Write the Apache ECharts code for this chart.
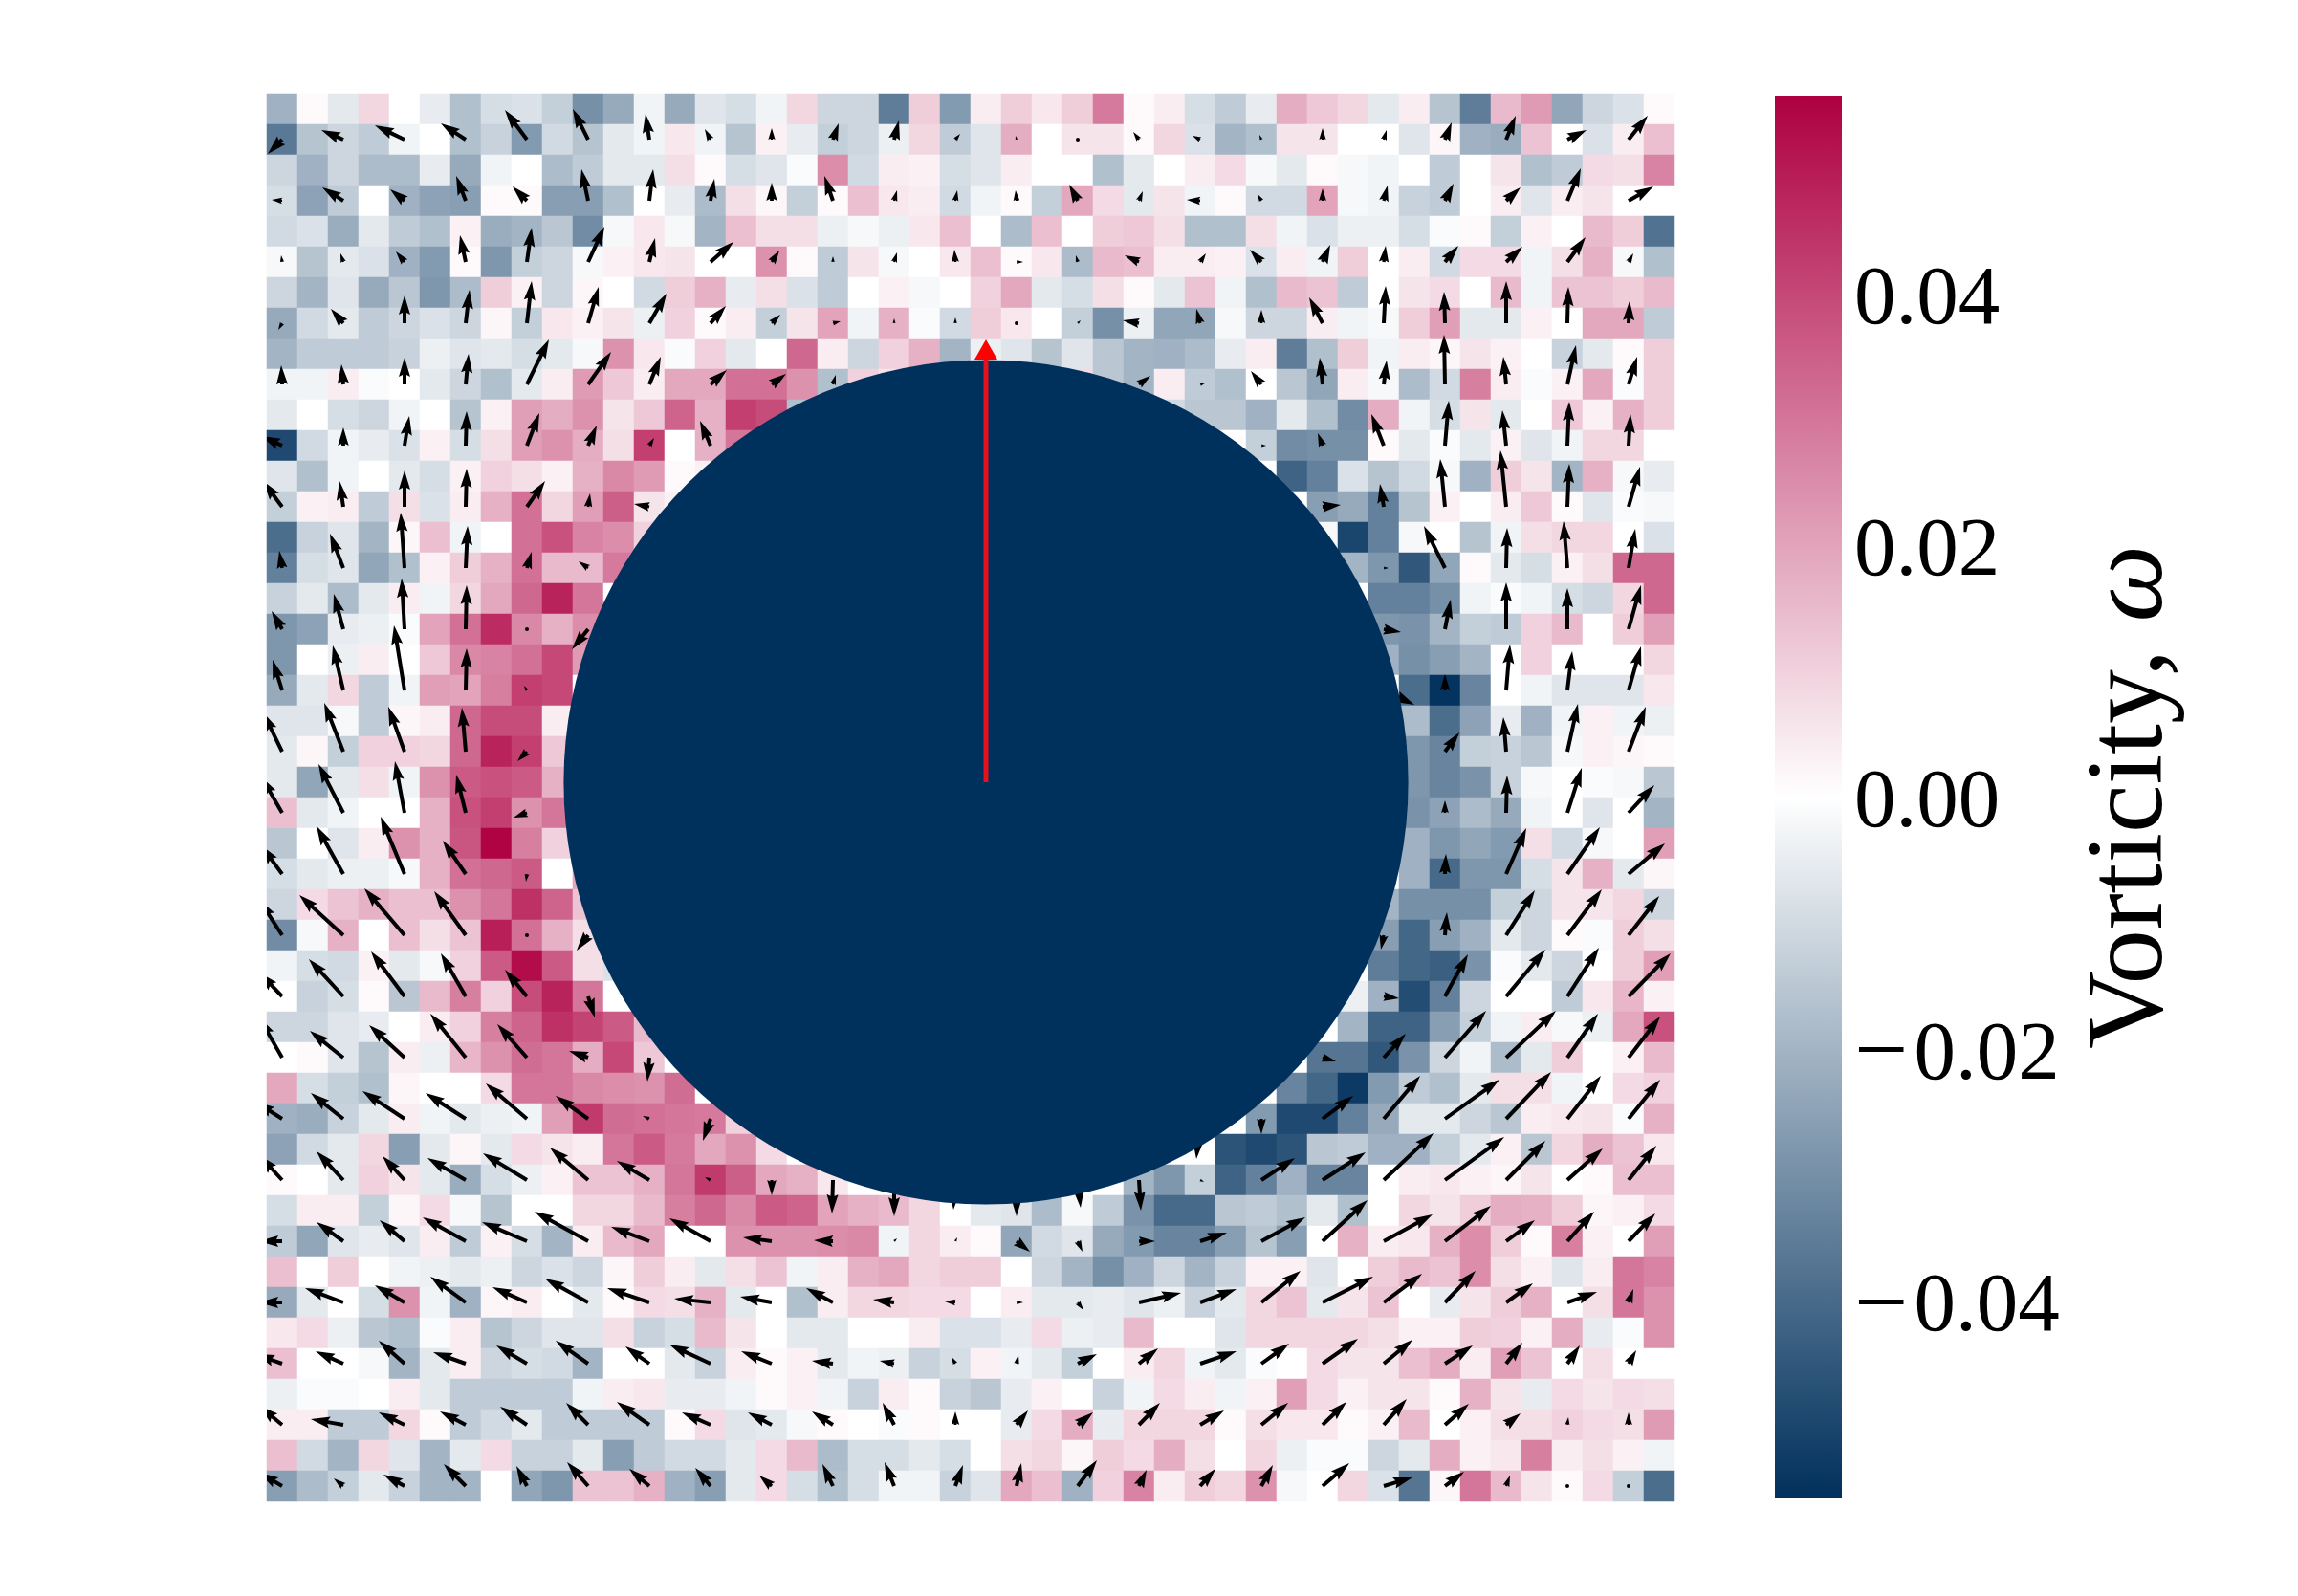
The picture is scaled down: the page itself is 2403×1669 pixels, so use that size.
<!DOCTYPE html>
<html><head><meta charset="utf-8">
<script src="https://cdn.jsdelivr.net/npm/echarts@6/dist/echarts.min.js"></script>
<style>html,body{margin:0;padding:0;background:#fff}#c{width:2403px;height:1669px}</style>
</head><body><div id="c"></div>
<script>
// Vorticity per cell, in units of 0.001, row 0 = top
const w00=[-21,1,-6,9,0,-5,-17,-9,-8,-13,-30,-23,-3,-23,-7,-9,-3,9,-11,-11,-35,11,-27,4,11,5,11,29,1,4,-9,-14,-5,18,12,9,-6,4,-16,-35,15,22,-24,-11,-8,1];
const w01=[-36,-16,-11,-14,-3,0,-17,-12,-27,-10,-16,-6,-3,5,-3,-16,3,-5,-13,-11,-4,9,-14,-7,18,0,6,6,1,9,-8,-20,-17,6,6,0,0,-7,2,-21,-22,13,0,-8,4,14];
const w02=[-11,-21,-11,-18,-18,-5,-23,-3,0,-18,-14,-6,-6,7,1,-9,-7,-1,25,-10,4,3,-9,-7,4,0,0,-17,-6,0,4,8,-2,-6,1,-2,-3,0,-14,0,6,-17,-14,8,7,27];
const w03=[-9,-25,-14,0,-21,-25,-26,1,1,-26,-26,-17,0,-5,-18,7,2,-13,1,14,5,4,-10,-3,1,-13,19,8,-6,6,-3,1,-10,-10,20,-2,-3,-12,-14,0,4,-7,4,6,0,0];
const w04=[-10,-8,-22,-6,-14,-17,3,-22,-20,-15,-31,-2,5,-2,-20,14,7,7,-4,-2,-4,5,14,0,-18,14,0,11,12,7,-17,-17,7,-3,-8,-4,-4,-9,-1,1,-13,3,0,15,11,-38];
const w05=[-2,-16,-6,-8,-21,-27,1,-28,-13,-11,-2,3,5,6,0,0,24,1,-14,6,-2,0,5,14,1,5,-18,15,14,4,4,3,-8,4,-3,11,0,4,-10,8,8,-3,7,17,-2,-17];
const w06=[-11,-20,-7,-23,-15,-28,-18,11,3,-11,2,0,-10,11,17,-5,7,-8,-14,0,3,-2,0,10,19,-6,-9,7,1,-6,13,-3,-17,15,13,-14,0,6,8,0,15,-3,13,13,11,15];
const w07=[-23,-10,-6,-14,-11,-8,-11,2,-13,5,3,6,-4,10,1,4,-13,6,20,-3,17,-1,-10,11,5,0,-13,-30,-4,-24,-24,-2,-11,-11,4,-3,-2,11,21,-6,-6,3,0,19,19,-14];
const w08=[-20,-14,-14,-14,-12,-4,-7,-6,-9,-6,-2,24,5,-1,10,-6,0,33,4,-11,10,17,-20,-4,-7,-16,-7,-15,-20,-21,-18,-5,4,-35,-17,11,-3,4,2,6,3,0,-12,-6,1,11];
const w09=[-3,-3,4,-1,0,-6,-11,-17,-6,4,22,12,4,19,19,31,31,24,-17,10,6,6,6,0,0,0,8,-15,-20,4,-14,-17,0,-15,-24,4,-2,-18,-10,28,4,-1,3,19,-1,11];
const w10=[-6,0,-9,-11,-3,0,-16,3,21,18,24,6,12,34,17,42,39,-17,0,0,0,0,0,0,0,0,0,0,0,-10,-15,-15,-21,-6,-17,-31,18,-3,-9,6,-6,0,12,3,17,11];
const w11=[-49,-10,-3,-5,-8,3,-9,7,21,24,18,7,42,0,17,30,0,0,0,0,0,0,0,0,0,0,0,0,0,0,0,0,-13,-31,-30,-30,1,-6,-1,-6,3,-7,-3,9,9,0];
const w12=[-7,-17,-3,0,-6,-9,3,10,7,3,17,26,22,1,3,0,0,0,0,0,0,0,0,0,0,0,0,0,0,0,0,0,0,-42,-34,-8,-16,-10,-2,-21,11,6,-20,17,-2,-5];
const w13=[-13,3,4,-14,7,-8,4,17,31,9,21,35,6,3,0,0,0,0,0,0,0,0,0,0,0,0,0,0,0,0,0,0,0,0,-26,-23,-34,-16,3,0,4,12,1,-7,-1,-2];
const w14=[-39,-12,-7,-20,2,14,-3,0,31,38,27,25,10,0,0,0,0,0,0,0,0,0,0,0,0,0,0,0,0,0,0,0,0,0,-2,-50,-34,-2,0,-16,-3,7,9,9,0,-8];
const w15=[-34,-9,-7,-24,-17,3,11,17,31,15,15,29,0,0,0,0,0,0,0,0,0,0,0,0,0,0,0,0,0,0,0,0,0,0,0,-20,-28,-45,-24,1,-6,-9,3,7,33,33];
const w16=[-12,-6,-18,-6,4,-3,9,19,33,48,30,0,0,0,0,0,0,0,0,0,0,0,0,0,0,0,0,0,0,0,0,0,0,0,0,0,-34,-34,-30,-3,-1,-3,-9,-11,9,33];
const w17=[-28,-25,-5,-4,-1,20,31,46,26,17,25,0,0,0,0,0,0,0,0,0,0,0,0,0,0,0,0,0,0,0,0,0,0,0,0,0,-28,-29,-20,-13,-14,10,15,0,11,21];
const w18=[-28,0,-4,4,0,12,26,27,31,40,22,0,0,0,0,0,0,0,0,0,0,0,0,0,0,0,0,0,0,0,0,0,0,0,0,0,-21,-30,-26,-20,0,10,0,0,0,9];
const w19=[-23,-6,9,-14,-3,21,20,28,42,40,0,0,0,0,0,0,0,0,0,0,0,0,0,0,0,0,0,0,0,0,0,0,0,0,0,0,0,-39,-55,-33,0,-3,-7,-7,-7,5];
const w20=[-7,-7,-2,-14,2,4,33,39,39,4,0,0,0,0,0,0,0,0,0,0,0,0,0,0,0,0,0,0,0,0,0,0,0,0,0,0,0,-18,-39,-25,-5,-21,-3,3,-3,-4];
const w21=[-6,2,-13,10,10,9,33,48,42,12,0,0,0,0,0,0,0,0,0,0,0,0,0,0,0,0,0,0,0,0,0,0,0,0,0,0,0,-28,-33,-13,-12,-15,-2,3,2,1];
const w22=[-6,-24,-6,7,-3,24,36,38,36,17,0,0,0,0,0,0,0,0,0,0,0,0,0,0,0,0,0,0,0,0,0,0,0,0,0,0,0,-28,-33,-29,-12,-2,0,-1,-2,-15];
const w23=[14,-6,-3,0,0,17,38,42,24,30,0,0,0,0,0,0,0,0,0,0,0,0,0,0,0,0,0,0,0,0,0,0,0,0,0,0,0,-29,-25,-18,-23,-3,0,-7,0,-20];
const w24=[-15,0,-7,4,24,17,37,55,28,10,0,0,0,0,0,0,0,0,0,0,0,0,0,0,0,0,0,0,0,0,0,0,0,0,0,0,0,-21,-28,-24,-27,7,-10,-2,0,21];
const w25=[-9,-6,-4,-4,-2,17,31,33,36,0,20,0,0,0,0,0,0,0,0,0,0,0,0,0,0,0,0,0,0,0,0,0,0,0,0,0,0,-21,-40,-28,-28,-9,6,17,-6,2];
const w26=[-11,8,13,17,14,14,24,30,45,34,13,0,0,0,0,0,0,0,0,0,0,0,0,0,0,0,0,0,0,0,0,0,0,0,0,0,-20,-30,-30,-30,-13,-11,6,6,9,-11];
const w27=[-31,-2,17,0,14,7,13,49,31,17,7,0,0,0,0,0,0,0,0,0,0,0,0,0,0,0,0,0,0,0,0,0,0,0,0,0,-26,-41,-26,-21,-6,-11,1,-1,11,7];
const w28=[-3,-9,-10,3,-6,-2,10,36,53,36,7,-8,0,0,0,0,0,0,0,0,0,0,0,0,0,0,0,0,0,0,0,0,0,0,0,0,-35,-41,-43,-29,-1,-6,-11,0,11,21];
const w29=[0,-12,-9,1,-15,15,28,10,39,48,30,0,0,0,0,0,0,0,0,0,0,0,0,0,0,0,0,0,0,0,0,0,0,0,0,-4,-21,-48,-34,-11,0,0,-14,5,16,3];
const w30=[-11,-11,-7,-5,0,4,10,28,34,45,41,36,15,0,0,0,0,0,0,0,0,0,0,0,0,0,0,0,0,0,0,0,0,0,0,-20,-42,-42,-26,-13,-3,4,-2,-4,19,38];
const w31=[0,1,-7,-16,4,-4,16,24,32,30,18,40,12,0,0,0,0,0,0,0,0,0,0,0,0,0,0,0,0,0,0,0,0,0,-37,-37,-45,-29,-11,-3,-18,-6,11,0,3,15];
const w32=[19,-9,-13,-17,2,0,0,8,30,30,26,25,24,32,0,0,0,0,0,0,0,0,0,0,0,0,0,0,0,0,0,0,0,-33,-41,-53,-27,-14,-17,-6,7,7,-3,0,8,10];
const w33=[-21,-22,-12,-6,4,-3,-6,-4,-3,21,43,32,31,30,29,10,0,0,0,0,0,0,0,0,0,0,0,0,0,0,0,0,-27,-49,-49,-34,-23,-6,-6,-11,-15,4,5,6,-1,17];
const w34=[-25,-10,-6,9,-26,-6,2,-6,8,6,4,30,36,29,19,24,8,0,0,0,0,0,0,0,0,0,0,0,0,0,0,-46,-49,-46,-15,-14,-21,-21,-13,-6,3,-15,9,18,13,5];
const w35=[1,0,-6,10,6,-6,-22,-9,-4,3,13,13,17,30,43,35,19,17,5,0,0,0,0,0,0,0,0,0,-20,-28,-13,-42,-34,-21,-33,-33,0,4,5,3,2,6,0,1,14,14];
const w36=[-9,4,4,-13,2,8,-2,-16,0,0,9,9,15,28,33,26,36,34,20,17,15,9,0,-6,-7,-18,-2,-14,-29,-40,-40,-15,-14,-17,-6,-17,0,9,6,11,18,17,11,2,3,8];
const w37=[-14,-24,-7,-5,-7,4,-14,3,-9,-20,4,15,19,0,0,24,24,24,25,26,-3,9,4,1,-24,-10,-7,-23,-27,-33,-33,-26,-16,-26,0,17,4,5,17,25,11,1,28,3,0,21];
const w38=[14,0,11,0,-3,-4,-6,-4,-11,-8,-11,2,11,4,-6,7,13,-3,4,17,19,9,11,11,0,-11,-20,-30,-21,-11,-20,-12,3,3,-7,0,11,15,13,25,7,3,-7,4,30,27];
const w39=[-23,-6,0,-9,24,-3,-21,2,4,0,-6,1,8,7,17,-6,0,-17,4,9,9,8,8,0,4,-6,-6,-5,-7,-4,-12,-6,9,13,-6,6,13,0,-5,6,11,17,0,7,30,24];
const w40=[5,8,-4,-15,-17,-1,4,-16,-11,-7,-7,7,-12,-9,15,6,0,-6,-6,0,0,4,-8,-8,-5,8,-4,-5,15,0,0,-7,9,9,9,9,7,3,3,11,10,3,18,-5,-1,24];
const w41=[14,0,0,-2,-20,-6,4,-11,-9,-10,-20,0,0,-6,-12,4,1,3,-6,-3,-4,-12,-9,3,-3,-6,-13,0,4,9,-3,-6,-1,0,8,6,6,14,18,4,21,13,0,7,0,0];
const w42=[-4,-1,-1,0,4,-6,-14,-14,-14,-14,-3,4,5,-5,-5,-3,1,3,-3,-12,4,1,-12,-15,-5,3,0,-12,-3,8,4,-3,3,21,8,3,6,6,1,17,6,-5,8,6,8,7];
const w43=[4,4,-14,-14,9,1,-14,-10,-6,-14,-14,-14,-14,1,8,-7,-6,-2,1,0,-1,1,0,0,-5,8,18,-5,9,9,9,1,7,5,5,1,3,15,0,3,7,7,10,8,7,22];
const w44=[14,-10,-20,9,-7,-20,-6,8,-12,-12,-6,-26,-14,-10,-10,-6,8,15,-18,-9,-9,-6,-9,0,7,9,2,11,8,18,7,0,9,-4,-1,-1,-11,-6,18,3,5,28,4,7,3,-3];
const w45=[-26,-18,-13,-6,-12,-20,-20,0,-24,-28,13,13,17,-21,-26,-6,8,-9,-17,-9,-3,-3,-12,-7,19,14,-21,10,27,4,11,9,24,-2,0,9,-8,-37,2,30,15,6,1,8,-13,-39];
const vorticityRows=[w00,w01,w02,w03,w04,w05,w06,w07,w08,w09,w10,w11,w12,w13,w14,w15,w16,w17,w18,w19,w20,w21,w22,w23,w24,w25,w26,w27,w28,w29,w30,w31,w32,w33,w34,w35,w36,w37,w38,w39,w40,w41,w42,w43,w44,w45];

// Velocity samples, one every second cell (columns 0,2,…44), rows 1,3,…45; unit = 1/32 cell
const u01=[-15,-23,-31,-26,-23,-16,-4,-6,0,6,5,5,-1,-2,-6,-8,-2,0,3,7,10,20,20];
const v01=[15,-10,-15,-17,-31,-32,-27,-11,-12,-17,-20,-6,-4,-3,-8,-4,-5,-12,-10,-18,-25,-10,-25];
const u03=[-11,-22,-15,-10,-15,-7,4,4,0,-9,3,2,-1,-9,4,-14,-4,0,4,9,15,14,26];
const v03=[-1,-14,-12,-26,-15,-33,-33,-23,-19,-26,-11,-11,-11,-17,-10,-1,-7,-13,-16,-18,-14,-34,-15];
const u05=[-1,-3,-9,-6,5,17,6,24,8,0,3,-1,7,-2,-15,6,-12,8,2,14,17,19,5];
const v05=[-7,-9,-11,-28,-36,-37,-25,-21,-12,-6,-10,-13,0,-7,-7,-9,-13,-18,-17,-17,-16,-26,-9];
const u07=[-4,-13,0,4,5,11,18,16,9,8,0,0,0,3,-17,-4,0,-14,2,-1,0,1,1];
const v07=[7,-15,-29,-35,-44,-38,-31,-18,-9,-2,-5,-6,0,-3,-3,-15,-14,-27,-39,-33,-44,-38,-23];
const u09=[-1,-2,0,3,23,24,12,17,15,3,0,0,0,0,12,6,-11,-3,3,-1,-3,9,9];
const v09=[-20,-21,-28,-32,-47,-34,-29,-15,-11,-10,0,0,0,0,-9,-2,-14,-28,-25,-52,-29,-41,-29];
const u11=[-22,0,5,1,13,9,5,-11,0,0,0,0,0,0,0,0,5,-5,-13,4,-4,2,2];
const v11=[-10,-19,-31,-36,-34,-21,-8,-26,0,0,0,0,0,0,0,0,0,-13,-33,-47,-37,-46,-33];
const u13=[-20,-4,0,1,19,2,-16,0,0,0,0,0,0,0,0,0,0,19,-4,-5,-6,2,12];
const v13=[-27,-27,-38,-40,-27,-14,-3,0,0,0,0,0,0,0,0,0,0,-2,-24,-50,-59,-45,-42];
const u15=[-3,-14,-4,2,5,-10,0,0,0,0,0,0,0,0,0,0,0,0,5,-22,1,-4,7];
const v15=[-18,-36,-58,-44,-17,-7,0,0,0,0,0,0,0,0,0,0,0,0,0,-44,-42,-49,-41];
const u17=[-11,-10,-3,1,-2,-17,0,0,0,0,0,0,0,0,0,0,0,0,18,6,0,0,13];
const v17=[-19,-37,-53,-46,-2,21,0,0,0,0,0,0,0,0,0,0,0,0,3,-31,-49,-43,-46];
const u19=[-10,-11,-11,1,-3,0,0,0,0,0,0,0,0,0,0,0,0,0,32,0,4,5,13];
const v19=[-32,-47,-68,-44,-5,0,0,0,0,0,0,0,0,0,0,0,0,0,15,-17,-48,-41,-46];
const u21=[-20,-20,-17,-4,-10,0,0,0,0,0,0,0,0,0,0,0,0,0,0,15,-3,11,18];
const v21=[-41,-51,-47,-46,10,0,0,0,0,0,0,0,0,0,0,0,0,0,0,-20,-36,-50,-47];
const u23=[-22,-26,-10,-10,-14,0,0,0,0,0,0,0,0,0,0,0,0,0,0,0,1,15,27];
const v23=[-38,-51,-54,-40,5,0,0,0,0,0,0,0,0,0,0,0,0,0,0,-13,-39,-47,-29];
const u25=[-22,-28,-25,-24,-1,0,0,0,0,0,0,0,0,0,0,0,0,0,0,1,21,34,38];
const v25=[-30,-50,-60,-35,8,0,0,0,0,0,0,0,0,0,0,0,0,0,0,-21,-48,-49,-32];
const u27=[-24,-46,-42,-33,0,-12,0,0,0,0,0,0,0,0,0,0,0,0,-3,2,30,36,32];
const v27=[-37,-42,-49,-46,0,16,0,0,0,0,0,0,0,0,0,0,0,0,15,-24,-47,-48,-41];
const u29=[-24,-36,-35,-26,-23,7,0,0,0,0,0,0,0,0,0,0,0,0,16,24,41,33,44];
const v29=[-25,-39,-47,-45,-28,22,0,0,0,0,0,0,0,0,0,0,0,0,2,-44,-49,-51,-45];
const u31=[-24,-35,-37,-37,-31,-20,-2,0,0,0,0,0,0,0,0,0,0,14,23,43,52,32,33];
const v31=[-42,-28,-34,-46,-35,-7,25,0,0,0,0,0,0,0,0,0,0,4,-25,-49,-49,-46,-43];
const u33=[-28,-34,-44,-42,-43,-34,-7,-8,0,0,0,0,0,0,0,-4,0,32,38,57,47,35,33];
const v33=[-18,-27,-29,-27,-37,-24,-3,23,0,0,0,0,0,0,0,42,16,-24,-45,-41,-49,-45,-41];
const u35=[-24,-28,-23,-40,-46,-40,-34,-6,0,-1,0,-2,0,3,2,4,35,45,52,62,41,37,29];
const v35=[-26,-30,-25,-23,-28,-34,-20,-3,16,35,38,31,38,29,32,2,-23,-29,-49,-45,-41,-33,-36];
const u37=[-24,-28,-26,-45,-47,-56,-40,-43,-30,-20,3,2,14,5,17,28,46,47,51,48,30,28,28];
const v37=[0,-20,-22,-25,-20,-31,-15,-24,-4,-1,-3,-4,11,11,0,-9,-25,-43,-28,-37,-22,-31,-29];
const u39=[-24,-40,-31,-37,-36,-45,-44,-38,-33,-28,-22,-11,7,6,44,38,41,53,40,32,28,31,5];
const v39=[0,-15,-18,-27,-16,-25,-15,-4,-6,-15,-3,-1,0,8,-10,-14,-33,-27,-30,-33,-20,-11,-14];
const u41=[-28,-29,-27,-34,-32,-34,-25,-43,-32,-22,-15,-4,2,20,20,38,29,37,30,29,17,13,8];
const v41=[-10,-13,-24,-12,-19,-24,-18,-20,-13,-3,-3,-7,-9,-10,-16,-13,-21,-26,-25,-19,-22,-19,-14];
const u43=[-24,-34,-27,-27,-28,-23,-34,-30,-25,-22,-12,0,12,16,22,25,28,25,24,25,15,1,0];
const v43=[-20,-6,-13,-14,-19,-23,-24,-13,-13,-14,-23,-14,-15,-13,-23,-15,-23,-24,-27,-22,-12,-8,-13];
const u45=[-24,-10,-22,-23,-11,-22,-21,-16,-13,-11,-10,8,5,20,8,16,12,28,30,20,4,0,1];
const v45=[-14,-8,-12,-23,-21,-25,-18,-19,-11,-23,-25,-22,-24,-27,-17,-18,-22,-24,-9,-15,-11,0,-2];
const uRows=[u01,u03,u05,u07,u09,u11,u13,u15,u17,u19,u21,u23,u25,u27,u29,u31,u33,u35,u37,u39,u41,u43,u45];
const vRows=[v01,v03,v05,v07,v09,v11,v13,v15,v17,v19,v21,v23,v25,v27,v29,v31,v33,v35,v37,v39,v41,v43,v45];

const colorTicks=[0.04,0.02,0,-0.02,-0.04];
const tickLabels=['0.04','0.02','0.00','{m|\u2212}0.02','{m|\u2212}0.04'];
const colorLimit=0.0557;
const colorStops=['#ae0041','#ffffff','#00305c'];
const cylinder=[23.5,22.5,13.8];      // centre column, centre row, radius (cells)
const forceVector=[23.5,22.5,0,-14.47]; // tail column, tail row, du, dv (cells)

const N=46;
const cats=Array.from({length:N},(_,i)=>i);
const cells=[];
vorticityRows.forEach((row,r)=>row.forEach((v,c)=>cells.push([c,r,v/1000])));
const arrows=[];
uRows.forEach((row,i)=>row.forEach((u,j)=>{
  const v=vRows[i][j];
  if(u===0&&v===0&&!(i===3&&j===12)&&!(i===22&&j===21)&&!(i===13&&j===4)) return;
  arrows.push([j*2+0.5,i*2+1.5,u/32,v/32]);
}));

const SERIF='"Liberation Serif", "DejaVu Serif", serif';
function arrowPolygon(p0,p1,width){
  const dx=p1[0]-p0[0],dy=p1[1]-p0[1],L=Math.hypot(dx,dy);
  const head=5*width,axis=4.5*width,hw=1.5*width,sw=width/2;
  if(L<width) return {type:'circle',shape:{cx:p0[0],cy:p0[1],r:sw},style:{fill:'#000'}};
  const k=L<head?L/head:1;
  const ux=dx/L,uy=dy/L,nx=-uy,ny=ux;
  const pts=[[0,sw*k],[L-axis*k,sw*k],[L-head*k,hw*k],[L,0],[L-head*k,-hw*k],[L-axis*k,-sw*k],[0,-sw*k]];
  return {type:'polygon',shape:{points:pts.map(q=>[p0[0]+ux*q[0]+nx*q[1],p0[1]+uy*q[0]+ny*q[1]])},style:{fill:'#000'}};
}

const chart=echarts.init(document.getElementById('c'),null,{renderer:'canvas',width:2403,height:1669});
chart.setOption({
  animation:false,
  backgroundColor:'#ffffff',
  grid:[
    {left:279,top:98,width:1472,height:1472},
    {left:1856,top:100,width:70,height:1467}
  ],
  xAxis:[
    {type:'category',data:cats,gridIndex:0,show:false},
    {type:'value',min:0,max:N,gridIndex:0,show:false},
    {type:'value',min:0,max:1,gridIndex:1,show:false}
  ],
  yAxis:[
    {type:'category',data:cats,inverse:true,gridIndex:0,show:false},
    {type:'value',min:0,max:N,inverse:true,gridIndex:0,show:false},
    {type:'value',min:-colorLimit,max:colorLimit,gridIndex:1,position:'right',
     axisLine:{show:false},axisTick:{show:false},splitLine:{show:false},
     axisLabel:{show:true,customValues:colorTicks,margin:13,color:'#000',fontFamily:SERIF,fontSize:87,padding:[16,0,0,0],
       rich:{m:{fontFamily:SERIF,fontSize:100,color:'#000',padding:[0,6,0,0]}},
       formatter:v=>{const i=colorTicks.findIndex(t=>Math.abs(t-v)<1e-9);return i>=0?tickLabels[i]:'';}},
     name:'Vorticity, {w|\u03c9}',nameLocation:'middle',nameRotate:90,nameGap:247,
     nameTextStyle:{color:'#000',fontFamily:SERIF,fontSize:114,
       rich:{w:{fontFamily:SERIF,fontSize:114,fontStyle:'italic',color:'#000'}}}}
  ],
  visualMap:{type:'continuous',seriesIndex:0,min:-colorLimit,max:colorLimit,show:false,
    inRange:{color:[colorStops[2],colorStops[1],colorStops[0]]}},
  series:[
    {type:'heatmap',xAxisIndex:0,yAxisIndex:0,data:cells,progressive:0,z:1,itemStyle:{borderWidth:0},emphasis:{disabled:true}},
    {type:'custom',xAxisIndex:1,yAxisIndex:1,data:arrows,clip:true,z:2,silent:true,
     encode:{x:0,y:1},
     renderItem:(p,api)=>{
       const x=api.value(0),y=api.value(1);
       return arrowPolygon(api.coord([x,y]),api.coord([x+api.value(2),y+api.value(3)]),4);
     }},
    {type:'custom',xAxisIndex:1,yAxisIndex:1,data:[cylinder],clip:false,z:3,silent:true,
     encode:{x:0,y:1},
     renderItem:(p,api)=>{
       const c=api.coord([api.value(0),api.value(1)]);
       const r=api.size([api.value(2),0])[0];
       return {type:'circle',shape:{cx:c[0],cy:c[1],r:r},style:{fill:colorStops[2]}};
     }},
    {type:'custom',xAxisIndex:1,yAxisIndex:1,data:[forceVector],clip:false,z:4,silent:true,
     encode:{x:0,y:1},
     renderItem:(p,api)=>{
       const x=api.value(0),y=api.value(1);
       const a=api.coord([x,y]),b=api.coord([x+api.value(2),y+api.value(3)]);
       const head=21,hw=12,sw=2.5;
       return {type:'group',children:[
         {type:'rect',shape:{x:a[0]-sw,y:b[1]+head,width:2*sw,height:a[1]-b[1]-head},style:{fill:'#e8101c'}},
         {type:'polygon',shape:{points:[[b[0],b[1]],[b[0]+hw,b[1]+head],[b[0]-hw,b[1]+head]]},style:{fill:'#ff0000'}}
       ]};
     }},
    {type:'custom',xAxisIndex:2,yAxisIndex:2,data:[[0,colorLimit,1,-colorLimit]],clip:false,z:1,silent:true,
     encode:{x:0,y:1},
     renderItem:(p,api)=>{
       const a=api.coord([api.value(0),api.value(1)]),b=api.coord([api.value(2),api.value(3)]);
       return {type:'rect',shape:{x:a[0],y:a[1],width:b[0]-a[0],height:b[1]-a[1]},
         style:{fill:new echarts.graphic.LinearGradient(0,0,0,1,[
           {offset:0,color:colorStops[0]},{offset:0.5,color:colorStops[1]},{offset:1,color:colorStops[2]}])}};
     }}
  ]
});
</script></body></html>
